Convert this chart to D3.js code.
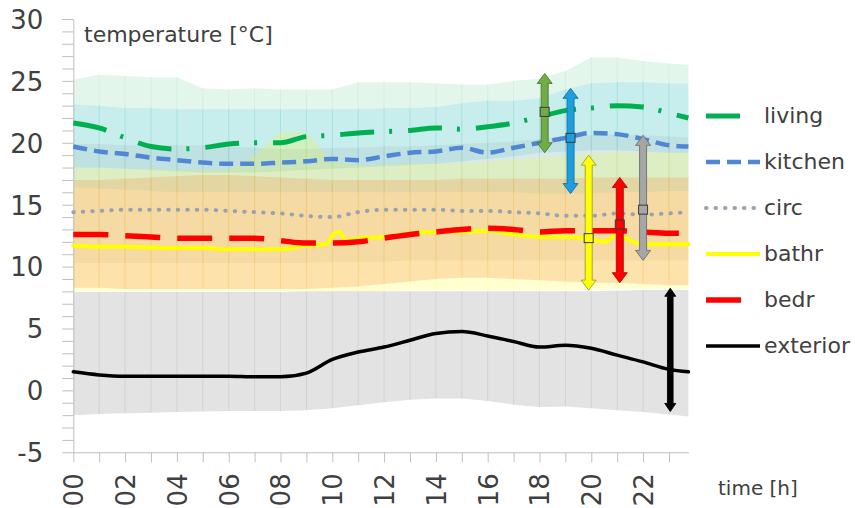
<!DOCTYPE html>
<html>
<head>
<meta charset="utf-8">
<script src="https://cdn.jsdelivr.net/npm/d3@7"></script>
<style>
  body { margin: 0; background: #fff; }
  svg { display: block; }
  text { font-family: "DejaVu Sans", sans-serif; fill: #404040; }
</style>
</head>
<body>
<svg id="chart" width="855" height="508"></svg>
<script>
// ---- data: hourly profile of room temperatures (°C) ----
const hours = [0,1,2,3,4,5,6,7,8,9,10,11,12,13,14,15,16,17,18,19,20,21,22,23,23.75];

const livingMean   = [21.6,21.2,20.4,19.7,19.5,19.6,19.9,20.0,20.0,20.5,20.6,20.8,20.9,21.0,21.2,21.1,21.3,21.6,22.1,22.6,22.8,23.0,22.9,22.4,22.0];
const kitchenMean  = [19.7,19.3,19.1,18.8,18.6,18.4,18.3,18.3,18.4,18.5,18.7,18.6,18.9,19.2,19.3,19.6,19.2,19.6,20.0,20.4,20.8,20.7,20.3,19.8,19.7];
const circMean     = [14.4,14.5,14.6,14.6,14.6,14.6,14.5,14.4,14.3,14.1,14.0,14.4,14.6,14.6,14.6,14.5,14.5,14.4,14.3,14.1,14.1,14.3,14.2,14.3,14.4];
const bedrMean     = [12.6,12.6,12.5,12.4,12.3,12.3,12.3,12.3,12.1,11.9,11.9,12.0,12.3,12.6,12.8,13.0,13.1,13.0,12.8,12.9,12.9,12.9,12.8,12.7,12.7];
const exteriorMean = [1.5,1.25,1.15,1.15,1.15,1.15,1.15,1.1,1.1,1.4,2.5,3.1,3.5,4.05,4.6,4.75,4.4,3.95,3.5,3.65,3.4,2.85,2.3,1.7,1.5];

const bathrHours = [0,1,2,3,4,5,6,7,8,9,9.75,10.1,10.3,10.5,11,12,13,14,15,16,17,18,19,20,20.5,21,21.5,22,23,23.75];
const bathrMean  = [11.7,11.6,11.6,11.55,11.5,11.5,11.4,11.4,11.4,11.7,11.8,12.7,12.8,12.1,12.3,12.4,12.7,12.8,12.8,12.9,12.6,12.4,12.4,12.2,12.0,12.6,12.1,11.8,11.8,11.8];

// ranges (low / high) per room, same hourly grid
const livingHi   = [25.1,25.5,25.4,25.3,25.3,24.4,24.3,24.4,24.3,24.3,24.3,24.9,24.9,24.9,24.8,24.7,24.7,25.0,25.2,25.8,26.9,26.9,26.6,26.4,26.3];
const livingLo   = [18.0,18.0,17.9,17.8,17.7,17.6,17.6,17.6,17.7,17.8,17.9,18.0,18.1,18.2,18.3,18.5,18.7,18.9,19.2,19.3,19.4,19.4,19.3,19.2,19.2];
const kitchenHi  = [23.1,23.0,22.8,22.8,22.7,22.7,22.7,22.7,22.7,22.7,22.7,22.7,22.8,22.8,22.9,23.2,23.4,23.4,23.6,24.3,24.8,24.9,24.9,24.8,24.8];
const kitchenLo  = [16.4,16.3,16.2,16.1,16.0,16.0,16.0,16.0,16.0,16.0,16.0,16.0,16.0,16.0,16.0,16.0,16.0,16.0,15.9,15.9,15.9,16.0,16.0,16.1,16.1];
const circHi     = [19.9,19.9,19.8,19.8,19.8,19.8,19.7,19.6,19.5,19.5,19.6,19.6,19.7,19.7,19.8,19.9,20.0,20.1,20.3,20.5,20.6,20.7,20.6,20.5,20.4];
const circLo     = [10.3,10.3,10.3,10.3,10.3,10.3,10.3,10.3,10.3,10.3,10.4,10.4,10.4,10.5,10.5,10.5,10.5,10.5,10.5,10.5,10.5,10.5,10.5,10.5,10.5];
const bathrHi    = [18.0,18.0,17.9,17.9,17.8,17.8,17.8,19.0,20.9,20.8,18.5,18.2,18.2,18.3,18.3,18.4,18.5,18.7,18.9,19.0,19.2,19.3,19.3,19.2,19.2];
const bathrLo    = [8.0,8.0,8.0,8.0,8.0,8.0,8.0,8.0,8.0,8.0,8.0,8.0,8.0,8.1,8.1,8.1,8.1,8.1,8.1,8.1,8.1,8.2,8.2,8.2,8.2];
const bedrHi     = [17.0,17.0,17.1,17.2,17.3,17.4,17.4,17.3,17.2,17.1,17.0,17.0,17.0,17.0,17.0,17.1,17.1,17.1,17.1,17.1,17.2,17.2,17.2,17.2,17.2];
const bedrLo     = [8.3,8.3,8.2,8.2,8.2,8.2,8.2,8.2,8.2,8.2,8.3,8.4,8.6,8.8,9.0,9.1,9.1,9.0,8.9,8.8,8.7,8.7,8.6,8.5,8.5];
const exteriorHi = [7.95,7.95,7.95,7.95,7.95,7.95,7.95,7.95,7.95,8.0,8.0,8.0,8.0,8.0,8.0,8.0,8.0,8.0,8.0,8.0,8.0,8.05,8.1,8.1,8.1];
const exteriorLo = [-2.0,-1.9,-1.85,-1.8,-1.75,-1.7,-1.67,-1.67,-1.67,-1.6,-1.45,-1.2,-0.95,-0.75,-0.65,-0.65,-0.85,-1.15,-1.35,-1.3,-1.45,-1.6,-1.75,-1.95,-2.1];

// range markers drawn at the right end
const markerRooms  = ["living","kitchen","bathr","bedr","circ","exterior"];
const markerHours  = [18.2, 19.2, 19.9, 21.1, 22.0, 23.05];
const markerTop    = [25.6, 24.4, 19.0, 17.2, 20.6, 8.25];
const markerBottom = [19.2, 15.9, 8.1, 8.7, 10.5, -1.7];
const markerMid    = [22.5, 20.4, 12.3, 13.4, 14.6, null];

const yTicks = [-5,0,5,10,15,20,25,30];
const legendNames = ["living","kitchen","circ","bathr","bedr","exterior"];

// ---- styles ----
const style = {
  living:   {line:"#00b050", w:5,   dash:"34,15,3,16", cap:"butt",  band:"#00b050", op:0.11, mark:"#70ad47", edge:"#4d7a31", key:38},
  kitchen:  {line:"#5087d4", w:4.5, dash:"14,7",       cap:"butt",  band:"#00b0f0", op:0.12, mark:"#1c9fe0", edge:"#1a6f9c", key:54},
  circ:     {line:"#9aa2b0", w:4,   dash:"0.5,9",      cap:"round", band:"#7f7f7f", op:0.10, mark:"#a6a6a6", edge:"#6e6e6e", key:54},
  bathr:    {line:"#ffff00", w:4,   dash:null,         cap:"round", band:"#ffff00", op:0.18, mark:"#ffff00", edge:"#9a9a55", key:54},
  bedr:     {line:"#ff0000", w:5.5, dash:"35,17",      cap:"butt",  band:"#f79646", op:0.27, mark:"#ff0000", edge:"#a01010", key:38},
  exterior: {line:"#000000", w:3.5, dash:null,         cap:"round", band:"#7f7f7f", op:0.22, mark:"#000000", edge:"#000000", key:54}
};

const svg = d3.select("#chart");
const x = d3.scaleLinear().domain([0, 23.75]).range([73.3, 688.4]);
const y = d3.scaleLinear().domain([-5, 30]).range([452.3, 19]);

// ---- ranges (bands) ----
const bands = [
  {name:"exterior", lo:exteriorLo, hi:exteriorHi},
  {name:"living",   lo:livingLo,   hi:livingHi},
  {name:"kitchen",  lo:kitchenLo,  hi:kitchenHi},
  {name:"circ",     lo:circLo,     hi:circHi},
  {name:"bathr",    lo:bathrLo,    hi:bathrHi},
  {name:"bedr",     lo:bedrLo,     hi:bedrHi}
];
const area = d3.area().x(d => x(d.h)).y0(d => y(d.lo)).y1(d => y(d.hi));
const gBands = svg.append("g");
bands.forEach(b => {
  const s = style[b.name];
  const pts = hours.map((h, i) => ({h, lo: b.lo[i], hi: b.hi[i]}));
  gBands.append("path").datum(pts).attr("d", area)
    .attr("fill", s.band).attr("fill-opacity", s.op);
  // hourly seams inside each band
  gBands.selectAll(null).data(pts.filter(p => p.h > 0 && p.h < 23.75)).enter()
    .append("line")
    .attr("x1", p => x(p.h)).attr("x2", p => x(p.h))
    .attr("y1", p => y(p.hi)).attr("y2", p => y(p.lo))
    .attr("stroke", s.band).attr("stroke-opacity", s.op * 0.7).attr("stroke-width", 1);
});

// ---- axes ----
const yAxis = d3.axisLeft(y).tickValues(d3.range(-5, 31, 1)).tickSize(11).tickSizeOuter(0)
  .tickPadding(19).tickFormat(d => yTicks.includes(d) ? d : "");
const gy = svg.append("g").attr("transform", "translate(73.3,0)").call(yAxis);
gy.selectAll("path, line").attr("stroke", "#bfbfbf");
gy.selectAll("text").style("font-size", "26px").attr("fill", "#404040").attr("dy", "0.36em");

const xAxis = d3.axisBottom(x).tickValues(d3.range(0, 24)).tickSize(10).tickSizeOuter(0)
  .tickFormat(d => d % 2 === 0 ? d3.format("02d")(d) : "");
const gx = svg.append("g").attr("transform", "translate(0,452.3)").call(xAxis);
gx.selectAll("path, line").attr("stroke", "#bfbfbf");
gx.selectAll("text").style("font-size", "26px").attr("fill", "#404040")
  .attr("transform", "rotate(-90)").attr("x", -21).attr("y", 0).attr("dy", "0.36em")
  .style("text-anchor", "end");

// ---- mean lines ----
const line = d3.line().x(d => x(d[0])).y(d => y(d[1])).curve(d3.curveMonotoneX);
const series = [
  {name:"living",   h:hours,      v:livingMean},
  {name:"kitchen",  h:hours,      v:kitchenMean},
  {name:"circ",     h:hours,      v:circMean},
  {name:"bathr",    h:bathrHours, v:bathrMean},
  {name:"bedr",     h:hours,      v:bedrMean},
  {name:"exterior", h:hours,      v:exteriorMean}
];
const gLines = svg.append("g");
series.forEach(s => {
  const st = style[s.name];
  gLines.append("path").datum(s.h.map((h, i) => [h, s.v[i]]))
    .attr("d", line).attr("fill", "none")
    .attr("stroke", st.line).attr("stroke-width", st.w)
    .attr("stroke-linecap", st.cap).attr("stroke-linejoin", "round")
    .attr("stroke-dasharray", st.dash);
});

// ---- range markers (double arrows) ----
const gMarks = svg.append("g");
markerRooms.forEach((room, i) => {
  const st = style[room];
  const cx = x(markerHours[i]);
  const yt = y(markerTop[i]), yb = y(markerBottom[i]);
  const black = room === "exterior";
  const s = black ? 2.8 : 3.5, hw = black ? 5.5 : 7.5, L = black ? 8 : 10;
  const pts = [[cx, yt],[cx+hw, yt+L],[cx+s, yt+L],[cx+s, yb-L],[cx+hw, yb-L],[cx, yb],
               [cx-hw, yb-L],[cx-s, yb-L],[cx-s, yt+L],[cx-hw, yt+L]];
  gMarks.append("path").attr("d", "M" + pts.map(p => p.join(",")).join("L") + "Z")
    .attr("fill", st.mark).attr("stroke", st.edge).attr("stroke-width", 0.9)
    .attr("stroke-linejoin", "round");
  if (markerMid[i] !== null) {
    gMarks.append("rect").attr("x", cx - 4.5).attr("y", y(markerMid[i]) - 4.5)
      .attr("width", 9).attr("height", 9)
      .attr("fill", st.mark).attr("stroke", "#3a3a3a").attr("stroke-width", 1);
  }
});

// ---- titles ----
svg.append("text").attr("x", 84).attr("y", 42).style("font-size", "22px").text("temperature [°C]");
svg.append("text").attr("x", 718).attr("y", 495).style("font-size", "20px").text("time [h]");

// ---- legend ----
const gLeg = svg.append("g");
legendNames.forEach((name, i) => {
  const st = style[name];
  const ly = 116 + i * 46;
  gLeg.append("line").attr("x1", 706).attr("x2", 706 + st.key).attr("y1", ly).attr("y2", ly)
    .attr("stroke", st.line).attr("stroke-width", st.w)
    .attr("stroke-linecap", st.cap === "round" && st.dash ? "round" : "butt")
    .attr("stroke-dasharray", st.dash);
  gLeg.append("text").attr("x", 764).attr("y", ly + 7).style("font-size", "22px").text(name);
});
</script>
</body>
</html>
